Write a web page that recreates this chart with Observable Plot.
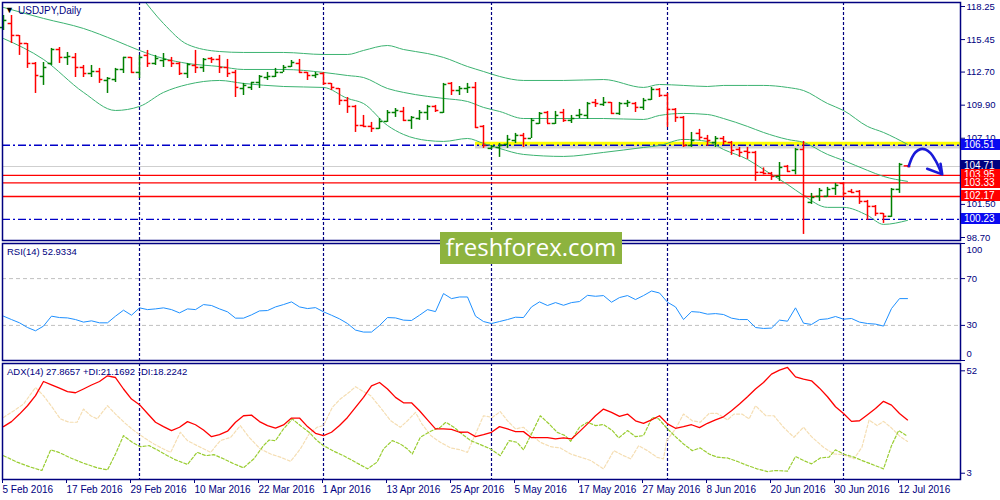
<!DOCTYPE html>
<html><head><meta charset="utf-8">
<script src="https://cdn.jsdelivr.net/npm/d3@7"></script>
<script src="https://cdn.jsdelivr.net/npm/@observablehq/plot@0.6"></script>
<style>
body{margin:0;background:#fff;}
#wrap{position:relative;width:1000px;height:500px;overflow:hidden;font-family:"Liberation Sans",Arial,sans-serif;background:#fff}
#wrap svg{position:absolute;left:0;overflow:visible;background:transparent}
.tag{position:absolute;left:961px;width:39px;height:11px;font-size:10px;line-height:11px;color:#fff;padding-left:3px;box-sizing:border-box}
.lbl{position:absolute;font-size:9.5px;color:#000080;white-space:nowrap;line-height:12px}
#wm{position:absolute;left:440px;top:232px;width:182px;height:32px;background:#8db33f;color:#fff;font-family:"Open Sans",sans-serif;font-size:24px;line-height:30px;text-align:center}
</style></head>
<body><div id="wrap"></div>
<script>
// ---------- DATA ----------
const xLabels = ["5 Feb 2016","17 Feb 2016","29 Feb 2016","10 Mar 2016","22 Mar 2016","1 Apr 2016","13 Apr 2016","25 Apr 2016","5 May 2016","17 May 2016","27 May 2016","8 Jun 2016","20 Jun 2016","30 Jun 2016","12 Jul 2016"];
const xTickIdx = [0,8,16,24,32,40,48,56,64,72,80,88,96,104,112];
const monthSeparators = [17,40,61,83,105];

const open = [116.47,116.81,115.80,115.12,113.43,112.33,113.43,114.61,113.94,113.94,113.09,112.58,112.75,111.99,112.07,112.92,113.94,112.67,114.11,113.43,113.68,113.68,113.43,112.58,113.26,113.09,113.85,113.77,113.09,112.67,111.31,111.40,111.82,112.24,112.33,112.67,113.17,113.43,112.67,112.41,112.58,111.74,111.31,110.30,109.79,108.18,108.10,107.93,108.52,109.28,109.37,108.61,108.77,109.28,109.79,109.28,111.74,111.14,111.31,111.40,108.10,106.24,106.32,106.58,106.91,107.34,107.08,108.35,109.28,108.35,109.28,108.61,109.03,109.03,110.13,109.96,110.13,109.20,110.04,110.04,109.71,110.38,111.23,110.72,109.54,108.86,106.49,107.51,107.08,106.74,107.08,106.74,106.15,105.99,105.90,104.21,104.12,103.87,104.72,104.38,106.15,101.67,102.18,102.18,102.85,103.28,102.60,102.60,101.75,101.33,100.74,100.49,102.77,104.76];
const high = [117.49,117.49,115.80,115.12,113.51,113.51,114.70,114.78,114.36,114.27,113.26,113.26,113.01,112.24,113.01,113.94,113.94,114.11,114.53,114.11,114.27,113.94,113.51,113.43,114.53,113.85,113.94,114.11,113.77,112.84,111.74,111.82,112.41,112.67,113.01,113.26,113.68,113.77,112.67,112.67,112.67,111.74,111.31,110.55,109.88,109.03,108.44,108.77,109.45,109.62,109.71,108.94,109.45,109.88,109.88,111.74,111.82,111.48,111.74,111.82,108.18,106.49,106.66,107.34,107.51,107.51,108.77,109.28,109.37,109.37,109.54,109.03,109.54,110.13,110.38,110.55,110.13,110.13,110.30,110.13,110.47,111.40,111.31,110.89,109.62,108.94,107.59,107.85,107.34,107.25,107.25,106.83,106.32,106.32,105.99,104.59,104.21,105.05,104.80,106.24,106.83,102.43,102.85,102.94,103.28,103.36,102.77,102.68,101.84,101.41,100.74,102.85,104.97,104.80];
const low = [116.22,115.12,114.11,113.01,110.89,111.57,113.26,113.43,113.26,112.24,112.24,112.24,111.74,110.89,111.82,112.58,112.58,112.16,113.09,113.26,113.09,113.09,112.41,112.16,112.58,112.67,113.43,112.58,112.24,110.55,110.72,111.14,111.31,111.99,112.24,112.67,113.09,112.58,111.99,112.16,111.57,111.14,109.88,109.20,107.59,108.01,107.59,107.85,108.44,108.86,108.52,107.85,108.61,108.61,109.28,109.20,110.72,110.72,110.89,107.93,106.24,106.15,105.48,106.24,106.66,106.32,107.08,108.27,108.35,108.27,108.44,108.35,108.77,108.69,109.71,109.79,109.11,109.03,109.71,109.28,109.45,110.30,110.55,108.01,108.44,106.32,106.32,106.91,106.41,106.32,106.49,105.65,105.48,105.31,103.45,104.00,103.53,103.45,104.21,104.00,98.96,101.50,101.75,102.09,102.26,102.18,102.43,101.50,100.15,100.49,99.89,100.40,102.43,104.72];
const close = [117.07,115.80,115.12,113.43,112.41,113.09,114.61,113.94,114.02,113.09,112.58,112.75,112.07,112.16,112.92,113.94,112.67,113.94,113.43,113.85,113.77,113.43,112.58,113.34,113.09,113.77,113.77,113.09,112.58,111.40,111.57,111.82,112.33,112.33,112.67,113.09,113.51,112.67,112.41,112.50,111.74,111.40,110.30,109.79,108.18,108.10,107.93,108.52,109.28,109.45,108.61,108.86,109.28,109.79,109.45,111.65,111.14,111.31,111.40,108.01,106.49,106.41,106.49,107.00,107.34,107.08,108.61,109.20,108.35,109.03,108.61,108.77,109.11,110.04,110.04,110.13,109.20,110.04,110.13,109.71,110.30,111.23,110.72,109.54,108.86,106.49,106.91,107.17,106.91,107.08,106.83,106.07,105.90,105.90,104.21,104.12,103.87,104.63,104.29,106.15,102.18,102.09,102.68,102.77,103.11,102.43,102.51,101.75,101.33,100.74,100.49,102.77,104.88,104.71];

const bandIdx = [0,5,10,14,17,20,23,27,30,35,40,43,45,48,50,53,55,58,60,62,65,70,75,80,82,85,88,90,93,95,98,100,103,105,108,110,113];
const bandUpper = [120.20,120.87,121.38,121.21,119.18,116.81,115.04,114.44,114.36,114.36,114.19,114.19,114.53,114.95,114.61,114.27,113.94,113.17,112.75,112.33,111.99,111.99,112.07,111.40,111.65,111.57,111.48,111.57,111.57,111.57,111.40,111.14,110.04,109.45,108.10,107.59,106.58];
const bandMiddle = [118.17,117.24,116.39,115.37,114.53,113.85,113.43,113.17,112.92,112.92,112.67,112.41,112.24,111.31,110.98,110.64,110.47,110.21,109.71,109.37,108.77,108.77,108.77,108.69,109.03,109.20,109.11,108.77,108.10,107.59,107.00,106.75,105.73,105.22,104.38,103.87,103.45];
const bandLower = [115.54,113.77,110.98,109.45,109.79,110.98,111.65,111.99,111.74,111.48,111.40,110.47,110.04,108.18,107.42,106.91,106.83,107.08,106.66,106.24,105.73,105.56,105.90,106.32,106.49,107.00,106.83,106.15,105.31,104.46,103.19,102.26,101.25,101.25,100.57,99.81,100.15];

const priceTicks = [118.25,115.45,112.70,109.90,107.10,101.50,98.70];
const blueLevels = [106.51,100.23];
const redLevels = [103.95,103.33,102.17];
const currentPrice = 104.71;
const yellowLevel = 106.66;
const yellowStartIdx = 59;
const priceTags = [
  {v:106.51,bg:"#0a0af0"},{v:104.71,bg:"#000080"},{v:103.95,bg:"#ff0000"},
  {v:103.33,bg:"#ff0000"},{v:102.17,bg:"#ff0000"},{v:100.23,bg:"#0a0af0"}
];
const arrowIdx = [113.16,113.59,114.0,114.63,115.25,115.88,116.5,116.91,117.25];
const arrowPrice = [104.74,105.50,105.92,106.18,106.15,105.84,105.22,104.66,104.10];
const arrowHeadIdx = [115.46,117.34,117.13];
const arrowHeadPrice = [104.52,104.04,104.94];

const rsi = [37.9,35.0,32.2,28.2,25.4,29.4,37.9,36.7,36.4,35.0,32.8,33.9,32.2,32.2,37.9,43.0,38.7,45.0,43.5,44.1,45.0,43.5,40.7,44.1,43.5,47.8,47.0,44.1,41.6,36.2,36.2,39.0,42.4,42.7,45.8,47.8,50.1,45.8,44.4,45.2,41.6,38.7,35.6,31.6,26.0,24.3,24.3,29.9,36.7,36.4,34.5,34.2,38.7,43.5,41.8,57.2,52.9,54.3,54.3,37.9,33.3,31.6,33.3,35.0,37.0,36.7,45.8,50.1,47.0,49.5,47.2,49.5,50.4,55.7,54.9,55.5,49.8,53.8,55.5,52.1,55.5,59.4,57.7,49.8,45.8,35.0,41.8,41.3,39.6,40.1,39.3,36.2,35.0,35.0,28.2,27.4,27.7,34.5,33.6,45.0,31.9,30.8,35.0,35.6,37.6,35.3,35.9,32.8,31.6,31.1,29.4,44.4,52.9,52.9];
const rsiLevels = [70,30];

const adx = [25.3,27.7,31.3,35.3,40.1,46.9,45.3,43.7,42.0,41.5,43.3,45.2,46.9,49.6,48.8,43.3,38.5,35.8,31.6,27.4,25.3,23.4,25.0,27.7,26.2,23.7,20.5,21.5,23.1,27.4,30.5,30.8,27.7,25.8,24.6,26.1,29.4,29.4,25.3,22.1,21.0,22.6,25.8,29.7,34.5,39.3,44.8,46.4,43.3,39.3,36.7,36.7,32.9,28.5,24.2,24.2,24.0,22.6,22.7,20.5,21.5,22.6,25.3,24.2,22.9,22.9,20.0,20.0,20.0,19.4,19.9,19.4,22.9,26.6,30.5,33.7,32.1,30.2,31.3,28.1,26.9,28.5,30.5,26.6,24.5,25.3,26.2,24.8,26.9,28.5,30.0,32.9,36.1,39.6,43.3,46.4,50.4,52.3,53.6,49.1,48.0,47.2,43.7,39.6,34.8,31.6,27.8,28.1,31.0,34.0,37.4,35.6,31.6,28.5];
const diMinusIdx = [0,1.3,2.5,4.0,5.0,6.1,7.1,8.2,9.2,10.0,10.9,11.7,13.0,14.0,15.3,16.3,17.5,18.8,20.0,20.9,22.1,23.0,24.2,25.9,27.1,28.4,29.6,30.7,32.1,33.4,34.6,35.9,37.1,38.2,39.2,40.0,41.1,42.1,43.2,44.0,44.8,45.9,47.1,48.4,49.6,50.5,51.5,52.3,53.4,54.6,55.9,57.1,58.0,59.0,60.0,61.1,62.1,63.0,64.0,65.0,66.1,67.1,68.4,69.6,70.9,72.1,73.4,75.0,76.3,77.5,78.4,79.4,80.5,81.7,82.5,82.9,84.0,85.0,86.1,87.1,88.2,89.2,90.5,91.3,92.3,93.2,94.0,95.3,96.3,97.5,98.8,100.0,101.0,102.5,103.8,105.0,106.3,107.3,108.2,109.2,110.0,110.9,112.1,113.0];
const diMinus = [29.7,32.9,36.1,44.0,40.1,34.5,29.0,27.4,27.4,33.7,30.5,29.0,35.3,31.3,26.6,23.4,20.2,17.0,14.6,13.0,22.6,18.6,16.2,13.0,18.6,20.2,25.8,20.2,14.6,12.2,10.7,8.7,14.6,21.8,25.0,25.8,34.5,38.5,41.7,44.4,42.5,40.1,34.5,28.1,25.0,28.1,32.1,26.6,21.0,17.8,15.1,14.2,13.0,21.8,30.5,29.7,32.5,28.1,24.2,25.0,21.0,17.8,15.7,15.1,12.2,10.7,9.1,5.1,13.8,11.4,9.9,16.2,13.8,10.6,9.9,18.6,24.2,31.3,28.1,27.4,31.6,31.6,28.5,31.3,31.3,29.0,35.3,30.5,30.5,25.0,20.2,25.0,20.5,15.4,12.2,11.9,9.9,15.4,28.5,25.8,27.8,25.0,20.5,18.2];
const diPlusIdx = [0,1.7,3.4,4.8,5.9,6.9,8.4,10.0,11.7,13.0,14.0,15.0,16.1,17.1,18.2,19.2,20.5,21.5,23.0,24.2,25.3,26.3,27.5,28.8,30.0,31.3,32.5,33.2,34.0,35.0,36.1,37.1,38.2,39.2,40.0,41.3,42.5,44.0,45.5,46.7,47.5,48.6,49.6,50.5,51.1,52.1,53.4,54.6,55.3,56.3,57.3,58.4,59.6,60.9,62.1,63.2,64.2,65.0,66.1,67.1,68.2,69.2,70.2,70.9,72.0,73.0,74.0,75.0,76.1,76.9,78.0,79.0,80.0,81.1,81.9,83.0,84.0,85.0,86.1,87.1,88.2,89.2,90.5,91.7,93.0,94.2,95.5,96.5,98.0,99.0,100.0,101.0,102.1,103.2,104.0,105.0,106.3,107.3,108.4,110.0,111.0,111.9,112.8];
const diPlus = [11.4,8.3,5.9,4.3,14.2,13.0,10.3,7.8,5.6,4.6,12.2,21.0,17.8,15.7,16.2,14.2,11.4,9.4,7.2,13.0,11.4,11.9,9.9,7.5,5.6,9.9,16.2,18.9,18.6,24.2,29.0,25.8,22.6,18.6,16.2,13.5,11.4,8.3,5.1,8.3,14.6,18.6,17.0,14.6,12.2,20.2,23.1,25.0,27.4,25.0,21.8,18.6,16.7,14.6,11.4,18.6,17.8,14.2,22.6,30.5,26.6,22.6,21.0,18.3,25.0,27.4,25.8,26.3,23.4,19.9,23.4,20.5,21.0,29.7,29.0,24.2,20.5,17.0,13.8,15.1,12.2,10.7,10.3,8.7,6.7,5.1,3.8,4.3,4.0,11.0,9.1,7.5,10.3,10.7,14.2,12.2,10.7,9.1,7.5,5.1,16.2,23.4,21.2];
const adxTicks = [52,3];

// ---------- BUILD ----------
const wrap = document.getElementById("wrap");
const NAVY = "#000080";
const xdom = [-0.125, 119.625];
const bars = open.map((o,i)=>({i,o,h:high[i],l:low[i],c:close[i],col: close[i] >= o ? "#008000" : "#ff0000"}));
const bands = bandIdx.map((i,k)=>({i,u:bandUpper[k],m:bandMiddle[k],l:bandLower[k]}));
const arrow = arrowIdx.map((i,k)=>({i,p:arrowPrice[k]}));
const arrowHead = arrowHeadIdx.map((i,k)=>({i,p:arrowHeadPrice[k]}));
const baseStyle = {fontFamily:"Liberation Sans, Arial, sans-serif", fontSize:"9.5px", background:"transparent", overflow:"visible"};
const sepMark = Plot.ruleX(monthSeparators, {x:d=>d, stroke:NAVY, strokeDasharray:"3,2", strokeWidth:1.2});

const price = Plot.plot({
  width:1000, height:241, marginTop:2, marginBottom:1, marginLeft:2, marginRight:40,
  x:{domain:xdom, axis:null},
  y:{domain:[98.70,118.25], range:[237,6]},
  style:baseStyle,
  marks:[
    Plot.ruleY([currentPrice], {stroke:"#cfcfcf", strokeWidth:1}),
    sepMark,
    Plot.ruleY([yellowLevel], {x1:yellowStartIdx, x2:xdom[1], stroke:"#888", strokeOpacity:0.35, strokeWidth:4, dy:3}),
    Plot.ruleY([yellowLevel], {x1:yellowStartIdx, x2:xdom[1], stroke:"#ffff00", strokeWidth:3.5}),
    Plot.ruleY(redLevels, {stroke:"#ff0000", strokeWidth:1.3}),
    Plot.ruleY(blueLevels, {stroke:"#0000c8", strokeDasharray:"8,3,2,3", strokeWidth:1.4}),
    Plot.line(bands, {x:"i", y:"u", stroke:"#3cb371", strokeWidth:1, curve:"monotone-x", clip:true}),
    Plot.line(bands, {x:"i", y:"m", stroke:"#3cb371", strokeWidth:1, curve:"monotone-x", clip:true}),
    Plot.line(bands, {x:"i", y:"l", stroke:"#3cb371", strokeWidth:1, curve:"monotone-x", clip:true}),
    Plot.ruleX(bars, {x:"i", y1:"l", y2:"h", stroke:"col", strokeWidth:1.5}),
    Plot.ruleY(bars, {y:"o", x1:d=>d.i-0.42, x2:"i", stroke:"col", strokeWidth:1.5}),
    Plot.ruleY(bars, {y:"c", x1:"i", x2:d=>d.i+0.42, stroke:"col", strokeWidth:1.5}),
    Plot.line(arrow, {x:"i", y:"p", curve:"catmull-rom", stroke:"#1a1ad8", strokeWidth:2.6}),
    Plot.line(arrowHead, {x:"i", y:"p", stroke:"#1a1ad8", strokeWidth:2.6, strokeLinejoin:"round"}),
    Plot.axisY({anchor:"right", ticks:priceTicks, tickFormat:d=>d.toFixed(2), tickSize:4, tickPadding:2, color:NAVY, label:null}),
    Plot.frame({stroke:NAVY, strokeWidth:1.5})
  ]
});
price.style.top = "0px";
wrap.appendChild(price);

const rsiData = rsi.map((v,i)=>({i,v}));
const rsiPlot = Plot.plot({
  width:1000, height:120, marginTop:2, marginBottom:1, marginLeft:2, marginRight:40,
  x:{domain:xdom, axis:null},
  y:{domain:[0,100]},
  style:baseStyle,
  marks:[
    Plot.ruleY(rsiLevels, {stroke:"#c0c0c0", strokeDasharray:"4,3"}),
    sepMark,
    Plot.line(rsiData, {x:"i", y:"v", stroke:"#1e90ff", strokeWidth:1}),
    Plot.axisY({anchor:"right", ticks:[100,70,30,0], tickFormat:()=>"", tickSize:4, color:NAVY, label:null}),
    Plot.text(rsiLevels, {x:xdom[1], y:d=>d, text:d=>String(d), dx:6, textAnchor:"start", fill:NAVY}),
    Plot.text([100], {x:xdom[1], y:d=>d, text:d=>String(d), dx:6, dy:6, textAnchor:"start", fill:NAVY}),
    Plot.text([0], {x:xdom[1], y:d=>d, text:d=>String(d), dx:6, dy:-7, textAnchor:"start", fill:NAVY}),
    Plot.frame({stroke:NAVY, strokeWidth:1.5})
  ]
});
rsiPlot.style.top = "241px";
wrap.appendChild(rsiPlot);

const adxData = adx.map((v,i)=>({i,v}));
const dmData = diMinusIdx.map((i,k)=>({i,v:diMinus[k]}));
const dpData = diPlusIdx.map((i,k)=>({i,v:diPlus[k]}));
const adxPlot = Plot.plot({
  width:1000, height:139, marginTop:2, marginBottom:21, marginLeft:2, marginRight:40,
  x:{domain:xdom, label:null},
  y:{domain:[0,55.5], label:null},
  style:baseStyle,
  marks:[
    sepMark,
    Plot.line(dmData, {x:"i", y:"v", stroke:"#f5deb3", strokeWidth:1.2, strokeDasharray:"3,2"}),
    Plot.line(dpData, {x:"i", y:"v", stroke:"#9acd32", strokeWidth:1.2, strokeDasharray:"3,2"}),
    Plot.line(adxData, {x:"i", y:"v", stroke:"#ff0000", strokeWidth:1.3}),
    Plot.axisY({anchor:"right", ticks:adxTicks, tickFormat:d=>String(d), tickSize:4, tickPadding:2, color:NAVY, label:null}),
    Plot.axisX({ticks:xTickIdx, tickFormat:d=>xLabels[xTickIdx.indexOf(d)], tickSize:4, tickPadding:2, textAnchor:"start", dx:-1, color:NAVY, fontSize:10, label:null}),
    Plot.frame({stroke:NAVY, strokeWidth:1.5})
  ]
});
adxPlot.style.top = "361px";
wrap.appendChild(adxPlot);

// price tags on the right axis, placed with the price scale
const ys = price.scale("y");
priceTags.forEach(t=>{
  const d = document.createElement("div");
  d.className = "tag";
  d.style.background = t.bg;
  d.style.top = (ys.apply(t.v) - 5.5) + "px";
  d.textContent = t.v.toFixed(2);
  wrap.appendChild(d);
});

// panel labels
function lbl(text, x, y, size){
  const d = document.createElement("div");
  d.className = "lbl"; d.style.left = x+"px"; d.style.top = y+"px";
  if (size) d.style.fontSize = size;
  d.textContent = text; wrap.appendChild(d); return d;
}
lbl("\u25BC", 5, 4, "9px").style.color = "#000";
lbl("USDJPY,Daily", 18, 5, "10px");
lbl("RSI(14) 52.9334", 7, 246);
lbl("ADX(14) 27.8657 +DI:21.1692 -DI:18.2242", 7, 366);

const wm = document.createElement("div");
wm.id = "wm"; wm.textContent = "freshforex.com";
wrap.appendChild(wm);
</script></body></html>
